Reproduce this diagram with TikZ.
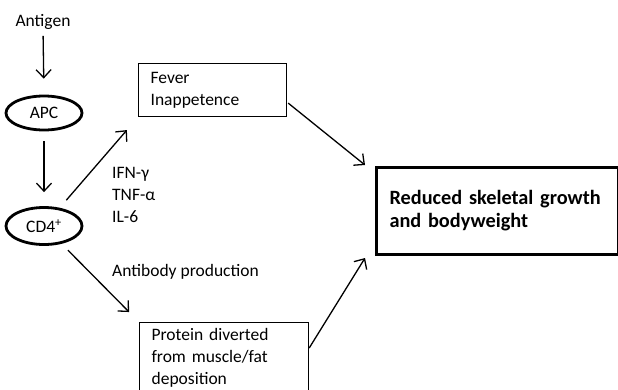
\documentclass[tikz,border=0pt]{standalone}
\usepackage{fontspec}
\setmainfont{Carlito}
\usetikzlibrary{arrows.meta,shapes.geometric}
\begin{document}
\begin{tikzpicture}[x=1bp,y=-1bp,
  every node/.style={font=\fontsize{17.5bp}{22bp}\selectfont, inner sep=0pt},
  arr/.style={line width=1.3bp, -{Straight Barb[length=8bp,width=15bp,line width=1.3bp]}},
  oval/.style={ellipse, draw, line width=2.8bp, minimum width=76bp, minimum height=34bp},
  thinbox/.style={draw, line width=1.2bp, align=left, inner xsep=12bp},
  thickbox/.style={draw, line width=3bp, align=left, inner xsep=13bp}]
\useasboundingbox (0,0) rectangle (618,389);
\clip (0,0) rectangle (618,389);

\node (antigen) at (43,22) {Antigen};
\node[oval] (apc) at (44,113) {APC};
\node[oval, minimum height=37bp] (cd4) at (44,226) {CD4\textsuperscript{+}};

\node[thinbox, anchor=north west, text width=124bp, minimum height=53bp] (fever) at (138,63)
  {Fever\\Inappetence};
\node[thinbox, anchor=north west, text width=145bp, inner ysep=6bp] (protein) at (139,322)
  {Protein diverted\\from muscle/fat\\deposition\\[6bp]};
\node[thickbox, anchor=north west, text width=216bp, minimum height=87bp, font=\fontsize{20.3bp}{23bp}\selectfont\bfseries] (reduced) at (375,166)
  {Reduced skeletal growth\\and bodyweight};

\node[anchor=west, align=left] (cyt) at (112,195) {IFN-γ\\TNF-α\\IL-6};
\node[anchor=west] (ab) at (112,272) {Antibody production};

\draw[arr, shorten <=6bp, shorten >=16bp] (antigen.south) -- (apc.north);
\draw[arr, shorten <=10bp, shorten >=14bp] (apc.south) -- (cd4.north);
\draw[arr, shorten <=10bp, shorten >=17bp] (cd4) -- (fever.south west);
\draw[arr, shorten <=9bp, shorten >=14bp] (cd4) -- (protein.north west);
\draw[arr] ([shift={(1,13)}]fever.east) -- ([shift={(-10,-1)}]reduced.north west);
\draw[arr] ([shift={(0,26)}]protein.north east) -- ([shift={(-10,2)}]reduced.south west);
\end{tikzpicture}
\end{document}
